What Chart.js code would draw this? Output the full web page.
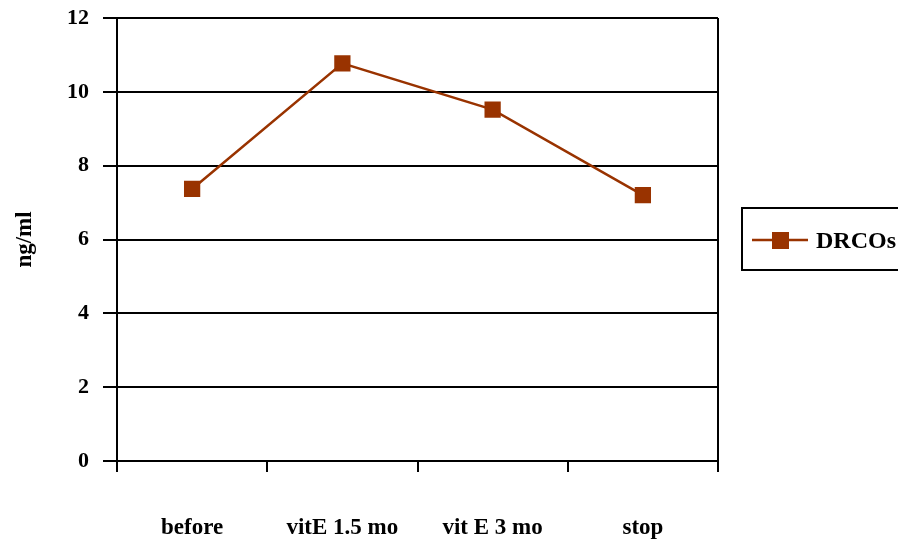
<!DOCTYPE html>
<html>
<head>
<meta charset="utf-8">
<script src="https://cdn.jsdelivr.net/npm/chart.js@4.4.0/dist/chart.umd.min.js"></script>
<style>
  html, body { margin: 0; padding: 0; background: #fff; }
  #wrap { width: 898px; height: 545px; }
</style>
</head>
<body>
<div id="wrap"><canvas id="chart" width="898" height="545"></canvas></div>
<script>
const categories = ['before', 'vitE 1.5 mo', 'vit E 3 mo', 'stop'];
const drcos = [7.37, 10.77, 9.52, 7.2];
const seriesName = 'DRCOs';
const yTicks = [0, 2, 4, 6, 8, 10, 12];

const serif = '"Liberation Serif", "Times New Roman", serif';
const brown = '#993300';

// legend with a frame, drawn by hand like the original
const boxLegend = {
    id: 'boxLegend',
    afterDraw(chart) {
        const ctx = chart.ctx;
        const ds = chart.data.datasets[0];
        ctx.save();
        ctx.strokeStyle = '#000';
        ctx.lineWidth = 2;
        ctx.strokeRect(742, 208, 170, 62);
        ctx.strokeStyle = ds.borderColor;
        ctx.lineWidth = 2.5;
        ctx.beginPath();
        ctx.moveTo(752, 240);
        ctx.lineTo(808, 240);
        ctx.stroke();
        ctx.fillStyle = ds.backgroundColor;
        ctx.fillRect(772, 232, 17, 17);
        ctx.fillStyle = '#000';
        ctx.font = 'bold 24px ' + serif;
        ctx.textBaseline = 'middle';
        ctx.fillText(ds.label, 816, 242);
        ctx.restore();
    }
};

new Chart(document.getElementById('chart'), {
    type: 'line',
    data: {
        labels: categories,
        datasets: [{
            label: seriesName,
            data: drcos,
            borderColor: brown,
            backgroundColor: brown,
            borderWidth: 2.5,
            pointStyle: 'rect',
            pointRadius: 11.5,
            pointHoverRadius: 11.5,
            pointBorderWidth: 0,
            pointBackgroundColor: brown,
            tension: 0
        }]
    },
    options: {
        responsive: false,
        animation: false,
        layout: { padding: { top: 18, right: 180, bottom: 0, left: 0 } },
        plugins: {
            legend: { display: false },
            tooltip: { enabled: false }
        },
        scales: {
            x: {
                offset: true,
                grid: {
                    offset: true,
                    // only the closing line on the right of the plot
                    color: ctx => ctx.type === 'tick' ? 'rgba(0,0,0,0)' : '#000',
                    lineWidth: 2,
                    tickColor: '#000',
                    tickLength: 11
                },
                border: { color: '#000', width: 2 },
                ticks: {
                    color: '#000',
                    font: { family: serif, size: 23, weight: 'bold' },
                    padding: 42,
                    maxRotation: 0
                },
                afterFit(scale) { scale.height = 84; }
            },
            y: {
                min: 0,
                max: 12,
                afterBuildTicks(scale) { scale.ticks = yTicks.map(v => ({ value: v })); },
                grid: {
                    color: '#000',
                    lineWidth: 2,
                    tickLength: 14
                },
                border: { color: '#000', width: 2 },
                ticks: {
                    color: '#000',
                    font: { family: serif, size: 22, weight: 'bold' },
                    padding: 14
                },
                title: {
                    display: true,
                    text: 'ng/ml',
                    color: '#000',
                    font: { family: serif, size: 23, weight: 'bold' },
                    padding: { top: 11, bottom: 0 }
                },
                afterFit(scale) {
                    scale.width = 117;
                    scale.paddingTop = 0;
                    scale.paddingBottom = 0;
                }
            }
        }
    },
    plugins: [boxLegend]
});
</script>
</body>
</html>
